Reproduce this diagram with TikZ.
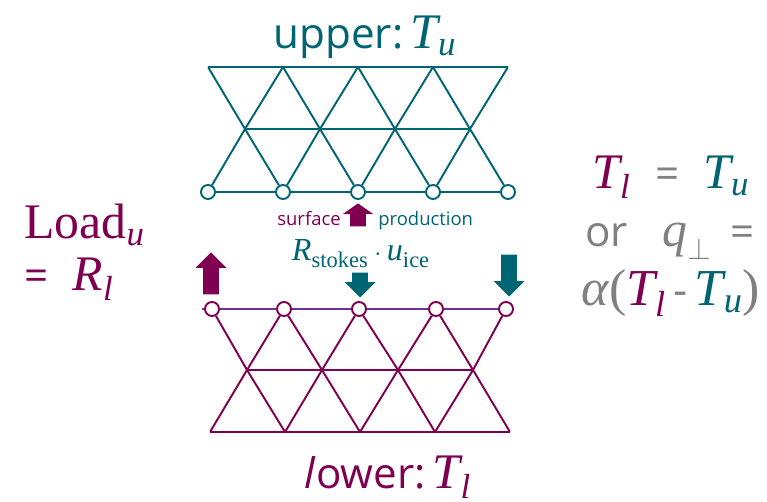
\documentclass[tikz,border=0pt]{standalone}
\usepackage{amsmath}
\usepackage{fontspec}
\setmainfont{Open Sans}
\newfontfamily\cambfont[Scale=1.18]{Liberation Serif}
\usetikzlibrary{shapes.arrows, positioning}
\definecolor{mTeal}{HTML}{006573}
\definecolor{mPlum}{HTML}{7F0050}
\definecolor{mPurple}{HTML}{7030A0}
\definecolor{mGray}{HTML}{808080}
\newcommand{\mvar}[1]{\text{\cambfont\itshape #1}}
\newcommand{\mrom}[1]{\text{\cambfont #1}}

\begin{document}
\begin{tikzpicture}[
    x=0.02cm, y=-0.02cm,
    nod/.style={draw=#1, circle, fill=white, line width=1.1pt, inner sep=0pt, minimum size=0.28cm},
    pt/.style={inner sep=0pt, minimum size=0pt},
    edge/.style={draw=#1, line width=1.1pt},
    blockup/.style={single arrow, fill=mPlum, rotate=90, inner xsep=0pt, inner ysep=0.15cm,
                    single arrow head extend=0.15cm, single arrow head indent=0pt,
                    minimum width=0.6cm, anchor=tip},
    blockdn/.style={blockup, fill=mTeal, rotate=180},
    lbl/.style={anchor=base, inner sep=0pt, font=\fontsize{#1}{#1}\selectfont},
  ]
    \useasboundingbox (0,0) rectangle (767,502);

    % Upper mesh
    \foreach \i/\px in {1/208, 2/283, 3/358, 4/433, 5/508} {
      \node[pt] (ut\i) at (\px,67) {};
      \node[nod=mTeal] (ub\i) at (\px,192) {};
    }
    \foreach \i/\px in {1/245, 2/320, 3/395, 4/470} \node[pt] (um\i) at (\px,129) {};

    \draw[edge=mTeal] (ut1) -- (ut5);
    \draw[edge=mTeal] (um1) -- (um4);
    \draw[edge=mTeal] (ub1) -- (ub2);
    \draw[edge=mTeal] (ub2) -- (ub3);
    \draw[edge=mTeal] (ub3) -- (ub4);
    \draw[edge=mTeal] (ub4) -- (ub5);
    \foreach \i [evaluate=\i as \j using int(\i+1)] in {1,2,3,4} {
      \draw[edge=mTeal] (ut\i) -- (um\i);
      \draw[edge=mTeal] (ut\j) -- (um\i);
      \draw[edge=mTeal] (ub\i) -- (um\i);
      \draw[edge=mTeal] (ub\j) -- (um\i);
    }

    % Lower mesh
    \foreach \i/\px in {1/212, 2/284, 3/359, 4/436, 5/506} \node[nod=mPlum] (lt\i) at (\px,309) {};
    \foreach \i/\px in {1/247, 2/322, 3/398, 4/473} \node[pt] (lm\i) at (\px,370) {};
    \foreach \i/\px in {1/210, 2/285, 3/360, 4/435, 5/510} \node[pt] (lb\i) at (\px,432) {};
    \coordinate (lstart) at (202,309);

    \draw[edge=mPurple] (lstart) -- (lt1);
    \draw[edge=mPurple] (lt1) -- (lt2);
    \draw[edge=mPurple] (lt2) -- (lt3);
    \draw[edge=mPurple] (lt3) -- (lt4);
    \draw[edge=mPurple] (lt4) -- (lt5);
    \draw[edge=mPlum] (lm1) -- (lm4);
    \draw[edge=mPlum] (lb1) -- (lb5);
    \foreach \i [evaluate=\i as \j using int(\i+1)] in {1,2,3,4} {
      \draw[edge=mPlum] (lt\i) -- (lm\i);
      \draw[edge=mPlum] (lt\j) -- (lm\i);
      \draw[edge=mPlum] (lb\i) -- (lm\i);
      \draw[edge=mPlum] (lb\j) -- (lm\i);
    }

    % Block arrows
    \node[blockup, minimum height=0.46cm, single arrow tip angle=110] (surf) at (358,203) {};
    \node[blockup, minimum height=0.84cm] (loadup) at (211,252) {};
    \node[blockdn, minimum height=0.5cm] (stokes) at (360,298) {};
    \node[blockdn, minimum height=0.84cm] (outdn) at (509,297) {};

    % Labels
    \node[lbl=24, text=mTeal] (upper) at (365,49) {upper:\,$\mvar{T}_{\mvar{u}}$};
    \node[lbl=24, text=mPlum] (lower) at (388,489) {\textit{l}ower:\,$\mvar{T}_{\mvar{l}}$};
    \node[lbl=10.5, text=mPlum, anchor=base east] (surface) at (341,226) {surface};
    \node[lbl=10.5, text=mTeal, anchor=base west] (prod) at (378,226) {production};
    \node[lbl=15.5, text=mTeal] (rstokes) at (361,261) {$\mvar{R}_{\mrom{stokes}}\cdot \mvar{u}_{\mrom{ice}}$};

    \node[lbl=24, text=mPlum, anchor=base west] (load) at (24,239) {{\cambfont Load}$_{\mvar{u}}$};
    \node[lbl=24, text=mPlum, anchor=base west] (rl) at (24,291) {$\text{=}\;\;\mvar{R}_{\mvar{l}}$};

    \node[lbl=24, text=mGray] (eq1) at (671,189) {$\textcolor{mPlum}{\mvar{T}_{\mvar{l}}}\;\;\text{=}\;\;\textcolor{mTeal}{\mvar{T}_{\mvar{u}}}$};
    \node[lbl=24, text=mGray] (eq2) at (670,247) {or\;\; $\mvar{q}_\perp$\;\,=};
    \node[lbl=25, text=mGray] (eq3) at (671,306) {$\mvar{α}\text{\cambfont (}\textcolor{mPlum}{\mvar{T}_{\mvar{l}}}$\,-\,$\textcolor{mTeal}{\mvar{T}_{\mvar{u}}}\text{\cambfont )}$};
  \end{tikzpicture}
\end{document}
